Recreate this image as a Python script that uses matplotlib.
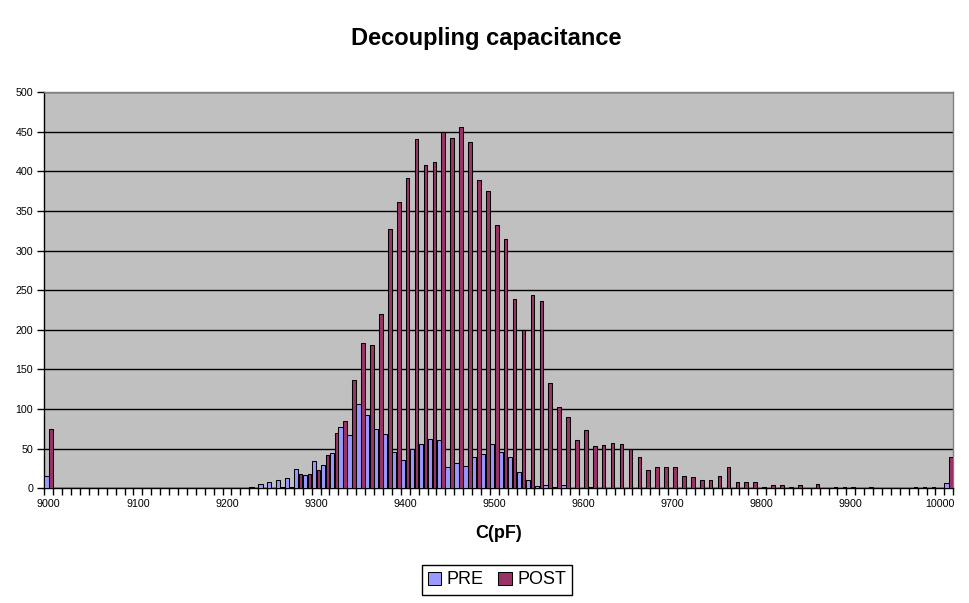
import numpy as np
import matplotlib
matplotlib.use("Agg")
import matplotlib.pyplot as plt
from matplotlib.patches import Patch

plt.rcParams["font.family"] = ["Liberation Sans", "DejaVu Sans"]

# bins 9000..10000 step 10, plus the overflow bin ("More")
bins = list(range(9000, 10001, 10)) + ["More"]
tick_labels = [str(b) if isinstance(b, int) and b % 100 == 0 else "" for b in bins]

pre = [16] + [0] * 22 + [
    2, 5, 8, 11, 13, 24, 17, 34, 29, 45,
    77, 67, 106, 93, 75, 69, 46, 36, 50, 56,
    62, 61, 27, 32, 28, 40, 43, 56, 46, 40,
    21, 10, 3, 4, 2, 4, 1, 0, 2,
] + [0] * 38 + [1, 7]

post = [
    75, 0, 0, 0, 0, 1, 0, 1, 0, 0,
    1, 0, 0, 0, 0, 0, 0, 1, 0, 0,
    1, 0, 0, 0, 0, 1, 2, 2, 18, 18,
    23, 42, 70, 85, 137, 183, 181, 220, 327, 361,
    391, 441, 408, 412, 449, 442, 456, 437, 389, 375,
    332, 315, 239, 200, 244, 236, 133, 102, 90, 61,
    73, 53, 54, 57, 56, 49, 40, 23, 27, 27,
    27, 16, 14, 10, 11, 15, 27, 8, 8, 8,
    2, 4, 4, 2, 4, 1, 5, 0, 2, 2,
    2, 1, 2, 0, 1, 1, 1, 2, 2, 2,
    1, 40,
]

PRE_COLOR = "#9999FF"
POST_COLOR = "#993366"

fig = plt.figure(figsize=(9.7, 6.03), dpi=100)
ax = fig.add_axes([44.3 / 970, 1 - 488.3 / 603, 909 / 970, 396.3 / 603])
ax.set_facecolor("#C0C0C0")

x = np.arange(len(bins))
ax.bar(x - 0.25, pre, width=0.48, color=PRE_COLOR, edgecolor="black", linewidth=0.75, zorder=3)
ax.bar(x + 0.27, post, width=0.40, color=POST_COLOR, edgecolor="black", linewidth=0.75, zorder=3)

ax.set_xlim(-0.5, len(bins) - 0.5)
ax.set_ylim(0, 500)
ax.set_yticks(range(0, 501, 50))
ax.yaxis.grid(True, color="black", linewidth=1.0, zorder=0)
ax.set_axisbelow(True)

# ticks on category boundaries, labels on category centres
ax.set_xticks(np.arange(len(bins) + 1) - 0.5)
ax.set_xticklabels([])
ax.set_xticks(x, minor=True)
ax.set_xticklabels(tick_labels, minor=True, fontsize=7.7)
ax.tick_params(axis="x", which="minor", length=0, pad=8)
ax.tick_params(axis="x", which="major", length=5, width=1, direction="out")
ax.tick_params(axis="y", length=5, width=1, direction="out", labelsize=7.7, pad=3)

for side in ["top", "right"]:
    ax.spines[side].set_color("#808080")
    ax.spines[side].set_linewidth(1.0)
for side in ["left", "bottom"]:
    ax.spines[side].set_color("black")
    ax.spines[side].set_linewidth(1.0)

fig.text(486 / 970, 1 - 39 / 603, "Decoupling capacitance", ha="center", va="center",
         fontsize=17, fontweight="bold")
fig.text(499 / 970, 1 - 534 / 603, "C(pF)", ha="center", va="center",
         fontsize=13, fontweight="bold")

handles = [Patch(facecolor=PRE_COLOR, edgecolor="black", linewidth=0.75, label="PRE"),
           Patch(facecolor=POST_COLOR, edgecolor="black", linewidth=0.75, label="POST")]
leg = fig.legend(handles=handles, loc="center", bbox_to_anchor=(497 / 970, 1 - 580 / 603),
                 ncol=2, fontsize=13, frameon=True, fancybox=False, framealpha=1,
                 edgecolor="black", handlelength=0.75, handleheight=0.75,
                 handletextpad=0.3, columnspacing=0.8, borderpad=0.35, borderaxespad=0)
leg.get_frame().set_linewidth(1.0)

fig.savefig("out.png", dpi=100, facecolor="white")
